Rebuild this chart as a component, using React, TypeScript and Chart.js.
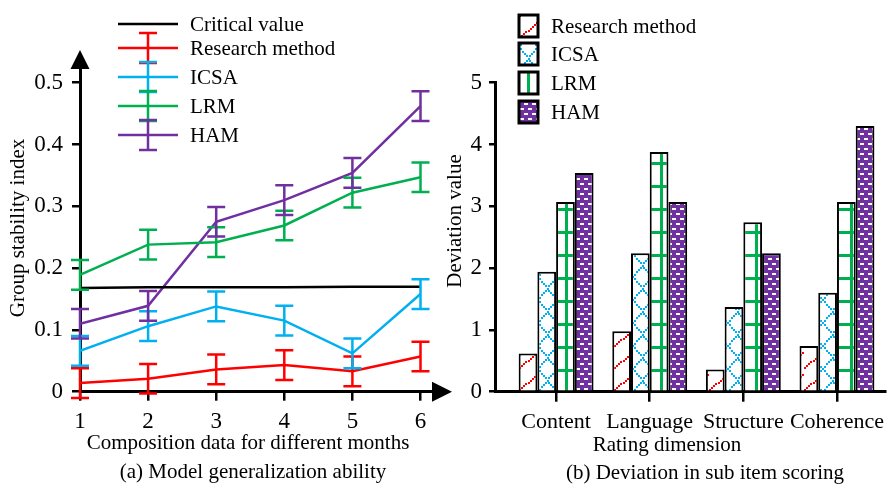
import React, { useEffect, useRef } from 'react';
import { Chart, registerables } from 'chart.js';

Chart.register(...registerables);

const FONT = '"Liberation Serif", "Times New Roman", Times, serif';

// ---------- (a) Model generalization ability ----------
const months = [1, 2, 3, 4, 5, 6];
const yTicksLeft = [0, 0.1, 0.2, 0.3, 0.4, 0.5];
const criticalValue = [0.168, 0.169, 0.169, 0.169, 0.170, 0.170];
const researchIndex = [0.014, 0.021, 0.036, 0.043, 0.033, 0.057];
const researchErr = [0.024, 0.024, 0.024, 0.024, 0.024, 0.024];
const icsaIndex = [0.066, 0.106, 0.138, 0.115, 0.062, 0.158];
const icsaErr = [0.024, 0.024, 0.024, 0.024, 0.024, 0.024];
const lrmIndex = [0.189, 0.238, 0.242, 0.269, 0.322, 0.347];
const lrmErr = [0.024, 0.024, 0.024, 0.024, 0.024, 0.024];
const hamIndex = [0.110, 0.139, 0.275, 0.310, 0.354, 0.462];
const hamErr = [0.024, 0.024, 0.024, 0.024, 0.024, 0.024];

// ---------- (b) Deviation in sub item scoring ----------
const categories = ['Content', 'Language', 'Structure', 'Coherence'];
const yTicksRight = [0, 1, 2, 3, 4, 5];
const researchDev = [0.62, 0.98, 0.36, 0.74];
const icsaDev = [1.94, 2.24, 1.37, 1.60];
const lrmDev = [3.07, 3.88, 2.74, 3.07];
const hamDev = [3.54, 3.07, 2.24, 4.30];

const RED = '#FF0000';
const CYAN = '#00B0F0';
const GREEN = '#00B050';
const PURPLE = '#7030A0';

const lineSeries = [
  { label: 'Research method', values: researchIndex, err: researchErr, color: RED },
  { label: 'ICSA', values: icsaIndex, err: icsaErr, color: CYAN },
  { label: 'LRM', values: lrmIndex, err: lrmErr, color: GREEN },
  { label: 'HAM', values: hamIndex, err: hamErr, color: PURPLE },
];

const barSeries = [
  { label: 'Research method', values: researchDev, kind: 'research' },
  { label: 'ICSA', values: icsaDev, kind: 'icsa' },
  { label: 'LRM', values: lrmDev, kind: 'lrm' },
  { label: 'HAM', values: hamDev, kind: 'ham' },
];

function makePattern(kind: string): CanvasPattern {
  const c = document.createElement('canvas');
  let w = 19, h = 23;
  if (kind === 'research') { w = 19; h = 22; }
  if (kind === 'ham') { w = 8; h = 10; }
  c.width = w; c.height = h;
  const g = c.getContext('2d')!;
  const dots = (x0: number, y0: number, x1: number, y1: number, color: string, step: number) => {
    g.fillStyle = color;
    const len = Math.hypot(x1 - x0, y1 - y0);
    const n = Math.max(1, Math.round(len / step));
    for (let i = 0; i <= n; i++) {
      const t = i / n;
      const x = x0 + (x1 - x0) * t;
      const y = y0 + (y1 - y0) * t;
      g.fillRect(Math.round(x) - 1, Math.round(y) - 1, 2, 2);
    }
  };
  if (kind === 'research') {
    g.fillStyle = '#fff'; g.fillRect(0, 0, w, h);
    dots(1, 20, 18, 5, RED, 3);
  } else if (kind === 'icsa') {
    g.fillStyle = '#fff'; g.fillRect(0, 0, w, h);
    dots(0, 0, w, h, CYAN, 3);
    dots(w, 0, 0, h, CYAN, 3);
  } else if (kind === 'lrm') {
    g.fillStyle = '#fff'; g.fillRect(0, 0, w, h);
    g.fillStyle = GREEN;
    g.fillRect(0, 0, w, 3);
    g.fillRect(8, 0, 3, h);
  } else {
    g.fillStyle = PURPLE; g.fillRect(0, 0, w, h);
    g.fillStyle = '#fff';
    g.fillRect(1, 1, 4, 2);
    g.fillRect(5, 6, 3, 2);
    g.fillRect(0, 6, 1, 2);
  }
  const p = g.createPattern(c, 'repeat')!;
  try {
    p.setTransform(new DOMMatrix([1, 0, 0, 1, 3, 392 % h]));
  } catch (e) { /* ignore */ }
  return p;
}

type TextItem = { text: string; x: number; y: number; rotate?: boolean };

function textPlugin(id: string, items: TextItem[]) {
  return {
    id,
    afterDraw(chart: any) {
      const ctx = chart.ctx as CanvasRenderingContext2D;
      ctx.save();
      ctx.font = `21px ${FONT}`;
      ctx.fillStyle = '#000';
      ctx.textAlign = 'center';
      ctx.textBaseline = 'middle';
      items.forEach((it) => {
        if (it.rotate) {
          ctx.save();
          ctx.translate(it.x, it.y);
          ctx.rotate(-Math.PI / 2);
          ctx.fillText(it.text, 0, 0);
          ctx.restore();
        } else {
          ctx.fillText(it.text, it.x, it.y);
        }
      });
      ctx.restore();
    },
  };
}

const errorBarPlugin = {
  id: 'errorBars',
  afterDatasetsDraw(chart: any) {
    const ctx = chart.ctx as CanvasRenderingContext2D;
    const x = chart.scales.x;
    const y = chart.scales.y;
    ctx.save();
    ctx.lineWidth = 2.5;
    lineSeries.forEach((s) => {
      ctx.strokeStyle = s.color;
      months.forEach((m, i) => {
        const px = x.getPixelForValue(m);
        const top = y.getPixelForValue(s.values[i] + s.err[i]);
        const bot = y.getPixelForValue(s.values[i] - s.err[i]);
        ctx.beginPath();
        ctx.moveTo(px, top); ctx.lineTo(px, bot);
        ctx.moveTo(px - 9, top); ctx.lineTo(px + 9, top);
        ctx.moveTo(px - 9, bot); ctx.lineTo(px + 9, bot);
        ctx.stroke();
      });
    });
    ctx.restore();
  },
};

const arrowPlugin = {
  id: 'arrows',
  afterDraw(chart: any) {
    const ctx = chart.ctx as CanvasRenderingContext2D;
    const { left, top, right, bottom } = chart.chartArea;
    ctx.save();
    ctx.fillStyle = '#000';
    ctx.beginPath();
    ctx.moveTo(left, top - 18);
    ctx.lineTo(left - 9.5, top + 1);
    ctx.lineTo(left + 9.5, top + 1);
    ctx.closePath();
    ctx.fill();
    ctx.beginPath();
    ctx.moveTo(right + 19, bottom);
    ctx.lineTo(right - 1, bottom - 10);
    ctx.lineTo(right - 1, bottom + 10);
    ctx.closePath();
    ctx.fill();
    ctx.restore();
  },
};

const leftLegendPlugin = {
  id: 'leftLegend',
  afterDraw(chart: any) {
    const ctx = chart.ctx as CanvasRenderingContext2D;
    const rows = [24, 48, 77, 106, 135];
    const items = [{ label: 'Critical value', color: '#000', err: false }].concat(
      lineSeries.map((s) => ({ label: s.label, color: s.color, err: true }))
    );
    ctx.save();
    ctx.font = `21px ${FONT}`;
    ctx.textAlign = 'left';
    ctx.textBaseline = 'middle';
    items.forEach((it, i) => {
      const y = rows[i];
      ctx.strokeStyle = it.color;
      ctx.lineWidth = 2.5;
      ctx.beginPath();
      ctx.moveTo(118, y); ctx.lineTo(178, y);
      if (it.err) {
        ctx.moveTo(148, y - 15); ctx.lineTo(148, y + 15);
        ctx.moveTo(139, y - 15); ctx.lineTo(157, y - 15);
        ctx.moveTo(139, y + 15); ctx.lineTo(157, y + 15);
      }
      ctx.stroke();
      ctx.fillStyle = '#000';
      ctx.fillText(it.label, 190, y + 1);
    });
    ctx.restore();
  },
};

function makeRightLegendPlugin(patterns: Record<string, CanvasPattern>) {
  return {
    id: 'rightLegend',
    afterDraw(chart: any) {
      const ctx = chart.ctx as CanvasRenderingContext2D;
      const rows = [26, 54, 83, 112];
      ctx.save();
      ctx.font = `21px ${FONT}`;
      ctx.textAlign = 'left';
      ctx.textBaseline = 'middle';
      barSeries.forEach((s, i) => {
        const cy = rows[i];
        ctx.fillStyle = patterns[s.kind];
        ctx.fillRect(79, cy - 11, 19, 22);
        ctx.strokeStyle = '#000';
        ctx.lineWidth = 3;
        ctx.strokeRect(79, cy - 11, 19, 22);
        ctx.fillStyle = '#000';
        ctx.fillText(s.label, 111, cy + 1);
      });
      ctx.restore();
    },
  };
}

export default function App() {
  const leftRef = useRef<HTMLCanvasElement>(null);
  const rightRef = useRef<HTMLCanvasElement>(null);

  useEffect(() => {
    document.body.style.margin = '0';
    const tickFont = { family: FONT, size: 22 };
    const numFont = { family: FONT, size: 23 };

    const leftChart = new Chart(leftRef.current!, {
      type: 'line',
      data: {
        datasets: [
          {
            label: 'Critical value',
            data: months.map((m, i) => ({ x: m, y: criticalValue[i] })),
            borderColor: '#000',
            borderWidth: 2.5,
            pointRadius: 0,
            fill: false,
          },
          ...lineSeries.map((s) => ({
            label: s.label,
            data: months.map((m, i) => ({ x: m, y: s.values[i] })),
            borderColor: s.color,
            borderWidth: 2.5,
            pointRadius: 0,
            fill: false,
            tension: 0,
          })),
        ],
      },
      options: {
        responsive: false,
        animation: false,
        events: [],
        layout: { padding: { top: 68, right: 27, left: 0, bottom: 0 } },
        plugins: { legend: { display: false }, tooltip: { enabled: false }, title: { display: false } },
        scales: {
          x: {
            type: 'linear',
            min: 1,
            max: 1 + 353 / 68.1,
            afterBuildTicks: (s: any) => { s.ticks = months.map((v) => ({ value: v })); },
            afterFit: (s: any) => { s.height = 92.3; },
            ticks: { font: numFont, color: '#000', padding: 7, maxRotation: 0, autoSkip: false, callback: (v: any) => String(v) },
            grid: { drawOnChartArea: false, drawTicks: true, tickLength: 9, color: '#000', lineWidth: 2.5 },
            border: { display: true, color: '#000', width: 3 },
          },
          y: {
            type: 'linear',
            min: 0,
            max: 323.7 / 618,
            afterBuildTicks: (s: any) => { s.ticks = yTicksLeft.map((v) => ({ value: v })); },
            afterFit: (s: any) => { s.width = 80; },
            ticks: { font: numFont, color: '#000', padding: 9, callback: (v: any) => String(Math.round(v * 10) / 10) },
            grid: { drawOnChartArea: false, drawTicks: true, tickLength: 8, color: '#000', lineWidth: 2.5 },
            border: { display: true, color: '#000', width: 3 },
          },
        },
      } as any,
      plugins: [
        errorBarPlugin,
        arrowPlugin,
        leftLegendPlugin,
        textPlugin('leftTexts', [
          { text: 'Group stability index', x: 18, y: 228, rotate: true },
          { text: 'Composition data for different months', x: 248, y: 443 },
          { text: '(a) Model generalization ability', x: 253, y: 472 },
        ]),
      ] as any,
    });

    const patterns: Record<string, CanvasPattern> = {
      research: makePattern('research'),
      icsa: makePattern('icsa'),
      lrm: makePattern('lrm'),
      ham: makePattern('ham'),
    };

    const rightChart = new Chart(rightRef.current!, {
      type: 'bar',
      data: {
        datasets: barSeries.map((s) => ({
          label: s.label,
          data: categories.map((c, i) => ({ x: i, y: s.values[i] })),
          backgroundColor: patterns[s.kind],
          borderColor: '#000',
          borderWidth: 2,
          borderSkipped: 'start',
          categoryPercentage: 0.8,
          barPercentage: 1.0,
        })),
      },
      options: {
        responsive: false,
        animation: false,
        events: [],
        layout: { padding: { top: 82.7, right: 0, left: 0, bottom: 0 } },
        plugins: { legend: { display: false }, tooltip: { enabled: false }, title: { display: false } },
        scales: {
          x: {
            type: 'linear',
            offset: false,
            min: -62 / 95,
            max: 334 / 95,
            afterBuildTicks: (s: any) => { s.ticks = categories.map((c, i) => ({ value: i })); },
            afterFit: (s: any) => { s.height = 92.3; },
            ticks: {
              font: tickFont, color: '#000', padding: 7, maxRotation: 0, minRotation: 0, autoSkip: false,
              callback: (v: any) => categories[Math.round(v)] ?? '',
            },
            grid: { offset: false, drawOnChartArea: false, drawTicks: true, tickLength: 10, color: '#000', lineWidth: 2.5 },
            border: { display: true, color: '#000', width: 3 },
          },
          y: {
            type: 'linear',
            min: 0,
            max: 5,
            afterBuildTicks: (s: any) => { s.ticks = yTicksRight.map((v) => ({ value: v })); },
            afterFit: (s: any) => { s.width = 55; },
            ticks: { font: numFont, color: '#000', padding: 7, callback: (v: any) => String(v) },
            grid: { drawOnChartArea: false, drawTicks: true, tickLength: 6, color: '#000', lineWidth: 2.5 },
            border: { display: true, color: '#000', width: 3 },
          },
        },
      } as any,
      plugins: [
        makeRightLegendPlugin(patterns),
        textPlugin('rightTexts', [
          { text: 'Deviation value', x: 15, y: 221, rotate: true },
          { text: 'Rating dimension', x: 227, y: 445 },
          { text: '(b) Deviation in sub item scoring', x: 265, y: 473 },
        ]),
      ] as any,
    });

    return () => {
      leftChart.destroy();
      rightChart.destroy();
    };
  }, []);

  return (
    <div style={{ position: 'relative', width: 891, height: 484, background: '#fff', overflow: 'hidden' }}>
      <canvas ref={leftRef} width={460} height={484} style={{ position: 'absolute', left: 0, top: 0 }} />
      <canvas ref={rightRef} width={451} height={484} style={{ position: 'absolute', left: 440, top: 0 }} />
    </div>
  );
}
